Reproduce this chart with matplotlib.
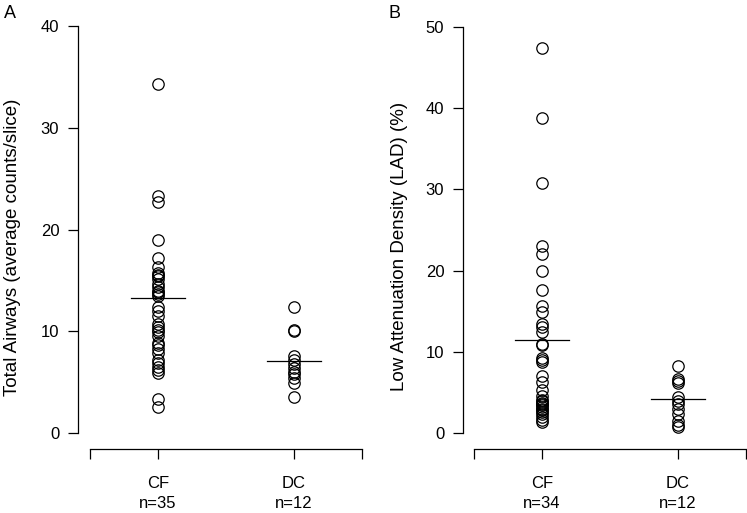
import numpy as np
import matplotlib
matplotlib.use("Agg")
import matplotlib.pyplot as plt

plt.rcParams['font.family'] = ['Liberation Sans', 'DejaVu Sans']

# Panel A: total airways (average counts/slice)
airways_cf = [34.3, 23.3, 22.7, 19.0, 17.2, 16.3, 15.7, 15.4, 15.1, 14.3, 14.0,
              13.7, 13.5, 12.4, 12.0, 11.5, 10.4, 10.1, 9.9, 9.5, 8.8, 8.6, 8.3,
              7.9, 7.2, 6.9, 6.5, 6.2, 5.9, 3.3, 2.6, 13.9, 15.5, 14.6, 10.7]
airways_dc = [12.4, 10.1, 10.0, 7.6, 7.2, 6.8, 6.4, 6.0, 5.8, 5.4, 4.9, 3.5]
airways_mean = [13.3, 7.05]

# Panel B: low attenuation density (%)
lad_cf = [47.4, 38.8, 30.8, 23.0, 22.1, 19.9, 17.6, 15.7, 14.9, 13.4, 13.0,
          12.4, 11.0, 10.8, 9.2, 9.0, 8.8, 7.0, 6.3, 5.3, 4.5, 4.1, 3.9, 3.7,
          3.6, 3.4, 3.2, 3.0, 2.8, 2.6, 2.3, 2.0, 1.6, 1.3]
lad_dc = [8.3, 6.7, 6.4, 6.2, 4.4, 3.9, 3.6, 2.9, 2.3, 1.5, 1.0, 0.8]
lad_mean = [11.4, 4.2]

groups = ['CF', 'DC']
counts_a = [35, 12]
counts_b = [34, 12]

W, H = 747, 513


def px_axes(fig, left, right, bottom, top):
    # axes rectangle given in pixel coordinates (y from top)
    return fig.add_axes([left / W, 1 - bottom / H, (right - left) / W, (bottom - top) / H])


def strip_panel(ax, values, means, counts, yticks, xlim, ylim):
    for i, vals in enumerate(values):
        x = np.full(len(vals), i + 1)
        ax.plot(x, vals, linestyle='none', marker='o', markersize=8.2,
                markerfacecolor='none', markeredgecolor='black', markeredgewidth=0.9)
        ax.plot([i + 1 - 0.2, i + 1 + 0.2], [means[i], means[i]], color='black', lw=0.9)
    ax.set_xlim(*xlim)
    ax.set_ylim(*ylim)
    ax.spines['top'].set_visible(False)
    ax.spines['right'].set_visible(False)
    ax.spines['left'].set_bounds(yticks[0], yticks[-1])
    ax.spines['bottom'].set_bounds(0.5, 2.5)
    for s in ('left', 'bottom'):
        ax.spines[s].set_linewidth(0.9)
    ax.set_yticks(yticks)
    ax.set_yticklabels([str(t) for t in yticks])
    ax.set_xticks([0.5, 1, 2, 2.5])
    ax.set_xticklabels(['', f'{groups[0]}\nn={counts[0]}', f'{groups[1]}\nn={counts[1]}', ''])
    ax.tick_params(axis='both', length=7.5, width=0.9, labelsize=12)
    ax.tick_params(axis='y', pad=6)
    ax.tick_params(axis='x', pad=12)
    for lab in ax.get_xticklabels():
        lab.set_linespacing(1.4)
    ax.patch.set_visible(False)


fig = plt.figure(figsize=(W / 100, H / 100), dpi=100)

ax_a = px_axes(fig, 78, 378, 449, 20)
strip_panel(ax_a, [airways_cf, airways_dc], airways_mean, counts_a,
            [0, 10, 20, 30, 40], (0.4118, 2.6176), (-1.5725, 40.59))

ax_b = px_axes(fig, 463, 760, 449, 20)
strip_panel(ax_b, [lad_cf, lad_dc], lad_mean, counts_b,
            [0, 10, 20, 30, 40, 50], (0.419, 2.603), (-1.97, 50.86))

fig.text(13 / W, 1 - 247 / H, 'Total Airways (average counts/slice)', rotation=90,
         ha='center', va='center', fontsize=13.5)
fig.text(399 / W, 1 - 246 / H, 'Low Attenuation Density (LAD) (%)', rotation=90,
         ha='center', va='center', fontsize=13.5)
fig.text(4 / W, 1 - 13 / H, 'A', ha='left', va='center', fontsize=13)
fig.text(389 / W, 1 - 13 / H, 'B', ha='left', va='center', fontsize=13)

fig.savefig('out.png', dpi=100, facecolor='white')
